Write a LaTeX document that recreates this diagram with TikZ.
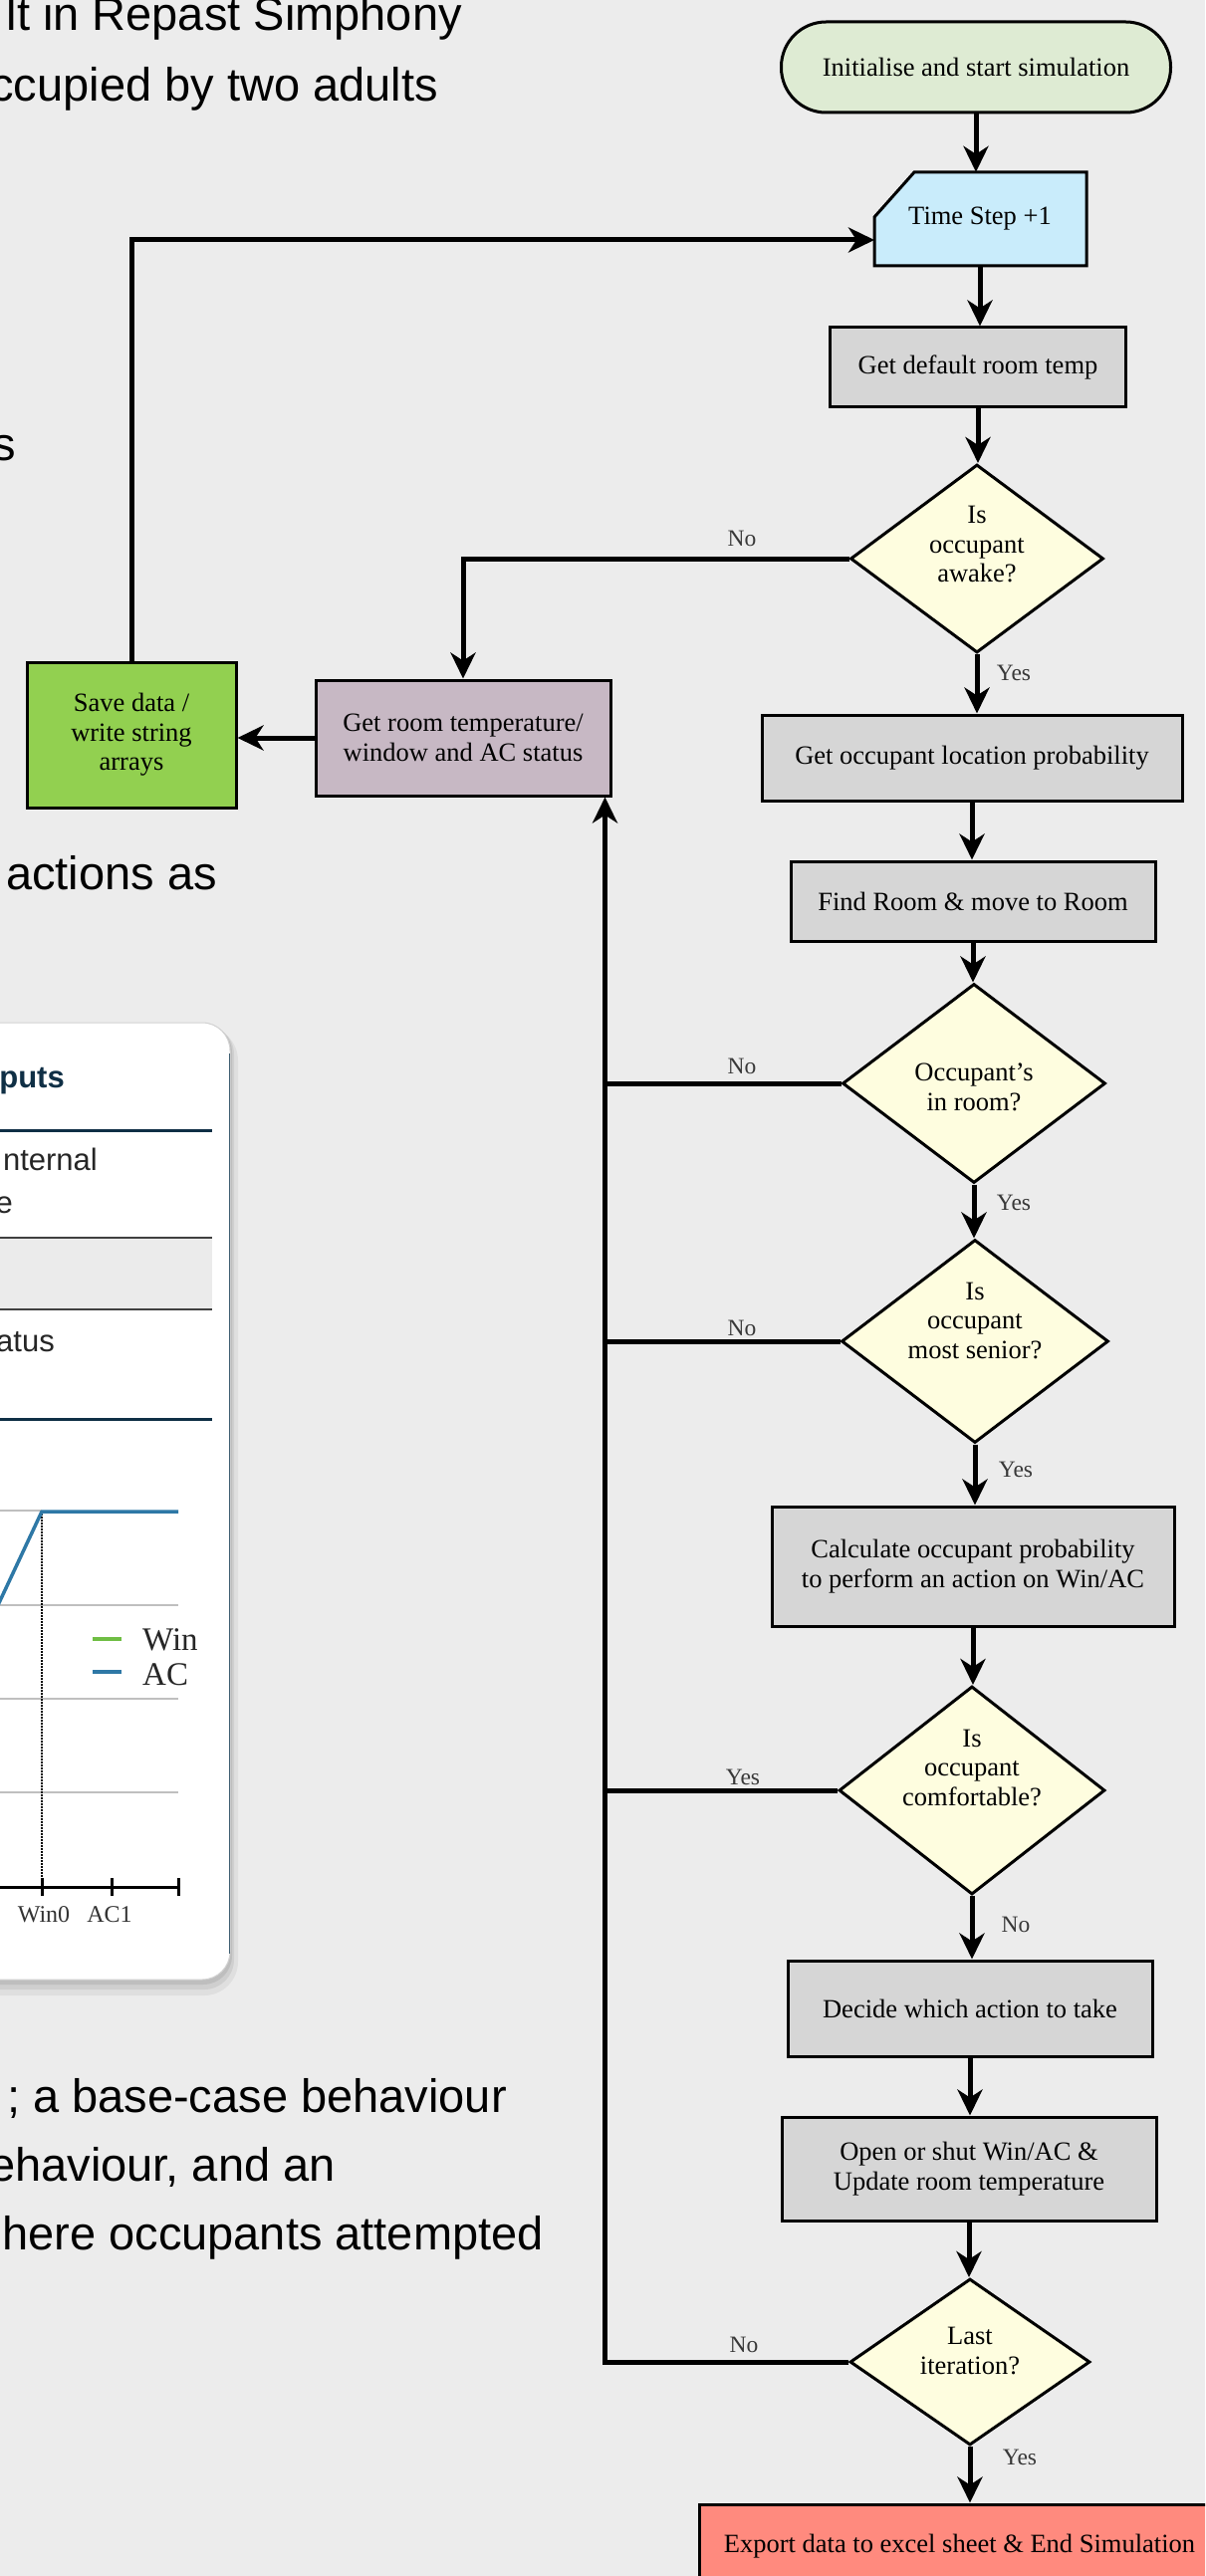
\documentclass[tikz,border=0pt]{standalone}
\usepackage{fontspec}
\setmainfont{Liberation Serif}
\newfontfamily\slidefont{Liberation Sans}
\usetikzlibrary{arrows.meta,shapes.geometric,calc}
\definecolor{bg}{HTML}{ECECEC}
\definecolor{startc}{HTML}{DEEBD3}
\definecolor{tsc}{HTML}{C9ECFB}
\definecolor{boxc}{HTML}{D6D6D6}
\definecolor{decc}{HTML}{FEFDDF}
\definecolor{roomc}{HTML}{C7B8C4}
\definecolor{savec}{HTML}{92D050}
\definecolor{endc}{HTML}{FF8A7E}
\definecolor{navy}{HTML}{0F2F45}
\definecolor{acblue}{HTML}{2E78A6}
\definecolor{wingreen}{HTML}{6FBE44}
\definecolor{edgeblue}{HTML}{3F5E72}
\tikzset{
  fc/.style={font=\fontsize{26.5}{29.5}\selectfont, align=center, inner sep=0pt},
  procbox/.style={fc, draw=black, line width=3pt, fill=boxc, rectangle},
  decbox/.style={fc, draw=black, line width=3pt, fill=decc, diamond, inner sep=0pt},
  conn/.style={line width=5pt, draw=black, line join=miter},
  arr/.style={conn, -{Stealth[length=26pt,width=25pt,inset=8pt]}},
  lbl/.style={font=\fontsize{23.5}{26}\selectfont, text=black!78, inner sep=0pt, anchor=base},
  slide/.style={font=\slidefont\fontsize{47}{52}\selectfont, inner sep=0pt, anchor=base east},
  cardtxt/.style={font=\slidefont\fontsize{31}{34}\selectfont, text=black!85, inner sep=0pt, anchor=base east},
  charttxt/.style={font=\fontsize{33}{36}\selectfont, text=black!85, inner sep=0pt},
  ticktxt/.style={font=\fontsize{24}{26}\selectfont, text=black!80, inner sep=0pt, anchor=base},
}
\begin{document}
\begin{tikzpicture}[x=1pt,y=-1pt]
\useasboundingbox (0,0) rectangle (1210,2587);
\clip (0,0) rectangle (1210,2587);
\fill[bg] (0,0) rectangle (1210,2587);

% ---- slide text behind ----
\node[slide] (s1) at (464,31) {lt in Repast Simphony};
\node[slide] (s2) at (440,102) {ccupied by two adults};
\node[slide] (s3) at (16,462) {s};
\node[slide] (s4) at (218,893) {actions as};
\node[slide] (s5) at (509,2121) {; a base-case behaviour};
\node[slide] (s6) at (337,2190) {ehaviour, and an};
\node[slide] (s7) at (546,2259) {here occupants attempted};

% ---- card ----
\fill[black, opacity=0.05, rounded corners=34pt] (-80,1031) rectangle (239,2004);
\fill[black, opacity=0.07, rounded corners=30pt] (-80,1029) rectangle (235,1998);
\fill[black, opacity=0.08, rounded corners=29pt] (-80,1028) rectangle (233,1993);
\filldraw[fill=white, draw=black!18, line width=1pt, rounded corners=28pt] (-80,1027) rectangle (231,1988);
\draw[edgeblue, line width=1.6pt] (230.5,1058) -- (230.5,1962);

\node[font=\slidefont\bfseries\fontsize{31}{34}\selectfont, text=navy, inner sep=0pt, anchor=base east] (tout) at (65,1092) {puts};
\draw[navy, line width=3pt] (-10,1135) -- (213,1135);
\node[cardtxt] (t1a) at (98,1175) {nternal};
\node[cardtxt] (t1b) at (13,1218) {e};
\fill[black!8] (-10,1244) rectangle (213,1315);
\draw[black!75, line width=2pt] (-10,1243) -- (213,1243);
\draw[black!75, line width=2pt] (-10,1315) -- (213,1315);
\node[cardtxt] (t2) at (55,1357) {atus};
\draw[navy, line width=3pt] (-10,1425) -- (213,1425);

% chart
\foreach \yy in {1612,1706,1800} \draw[black!25, line width=1.5pt] (-10,\yy) -- (179,\yy);
\draw[black!25, line width=1.5pt] (-10,1517) -- (42,1517);
\draw[black, line width=1.5pt, dash pattern=on 1.5pt off 1.5pt] (42,1517) -- (42,1895);
\draw[acblue, line width=3.5pt, line join=round] (-10,1629) -- (42,1518) -- (179,1518);
\draw[black, line width=3pt] (-10,1895) -- (180,1895);
\foreach \xx in {42,112,179} \draw[black, line width=3pt] (\xx,1886) -- (\xx,1904);
\draw[wingreen, line width=3.5pt] (93,1646) -- (122,1646);
\draw[acblue, line width=3.5pt] (93,1679) -- (122,1679);
\node[charttxt, anchor=base west] (lwin) at (143,1657) {Win};
\node[charttxt, anchor=base west] (lac) at (143,1692) {AC};
\node[ticktxt] (xw) at (44,1930) {Win0};
\node[ticktxt] (xa) at (110,1930) {AC1};

% ---- flowchart ----
\node[fc, draw=black, line width=3pt, fill=startc, rounded corners=45pt, minimum width=391pt, minimum height=91pt] (start) at (980,67.5) {Initialise and start simulation};

\filldraw[fill=tsc, draw=black, line width=3pt, line join=miter] (878,267) -- (878,218) -- (918,173) -- (1091,173) -- (1091,267) -- cycle;
\node[fc, minimum width=213pt, minimum height=94pt] (ts) at (984,220) {Time Step +1};

\node[procbox, minimum width=297pt, minimum height=79pt] (gdef) at (982,368.5) {Get default room temp};
\node[decbox, minimum width=254pt, minimum height=189pt] (d1) at (981,561) {};
\node[fc] (d1t) at (981,547) {Is\\occupant\\awake?};
\node[procbox, minimum width=422pt, minimum height=86pt] (gloc) at (976,761) {Get occupant location probability};
\node[procbox, minimum width=366pt, minimum height=80pt] (find) at (977,905) {Find Room \& move to Room};
\node[decbox, minimum width=264pt, minimum height=200pt] (d2) at (978,1088) {};
\node[fc] (d2t) at (978,1092) {Occupant’s\\in room?};
\node[decbox, minimum width=268pt, minimum height=204pt] (d3) at (979,1347) {};
\node[fc] (d3t) at (979,1326) {Is\\occupant\\most senior?};
\node[procbox, minimum width=404pt, minimum height=120pt] (calc) at (977,1573) {Calculate occupant probability\\to perform an action on Win/AC};
\node[decbox, minimum width=267pt, minimum height=209pt] (d4) at (976,1798) {};
\node[fc] (d4t) at (976,1775) {Is\\occupant\\comfortable?};
\node[procbox, minimum width=366pt, minimum height=96pt] (decide) at (974,2017) {Decide which action to take};
\node[procbox, minimum width=376pt, minimum height=104pt] (open) at (973,2178) {Open or shut Win/AC \&\\Update room temperature};
\node[decbox, minimum width=241pt, minimum height=167pt] (d5) at (974,2372) {};
\node[fc] (d5t) at (974,2361) {Last\\iteration?};
\node[fc, draw=black, line width=3pt, fill=endc, minimum width=523pt, minimum height=85pt] (export) at (963.5,2557.5) {Export data to excel sheet \& End Simulation};

\node[fc, draw=black, line width=3pt, fill=roomc, minimum width=296pt, minimum height=116pt] (room) at (465,741) {Get room temperature/\\window and AC status};
\node[fc, draw=black, line width=3pt, fill=savec, minimum width=210pt, minimum height=146pt] (save) at (132,738) {Save data /\\write string\\arrays};

% main column arrows
\draw[arr] (start.south) -- (start.south |- ts.north);
\draw[arr] (ts.south) -- (ts.south |- gdef.north);
\draw[arr] (gdef.south) -- (gdef.south |- d1.north);
\draw[arr] (d1.south) -- (d1.south |- gloc.north);
\draw[arr] (gloc.south) -- (gloc.south |- find.north);
\draw[arr] (find.south) -- (find.south |- d2.north);
\draw[arr] (d2.south) -- (d2.south |- d3.north);
\draw[arr] (d3.south) -- (d3.south |- calc.north);
\draw[arr] (calc.south) -- (calc.south |- d4.north);
\draw[arr] (d4.south) -- (d4.south |- decide.north);
\draw[arr] (decide.south) -- (decide.south |- open.north);
\draw[arr] (open.south) -- (open.south |- d5.north);
\draw[arr] (d5.south) -- (d5.south |- export.north);

% side connectors
\coordinate (busTop) at ($(room.south east)+(-7,0)$);
\coordinate (tsIn) at (878,241);
\draw[arr] (d1.west) -| (room.north);
\draw[arr] (d5.west) -| (busTop);
\draw[conn] (d2.west) -- (d2.west -| busTop);
\draw[conn] (d3.west) -- (d3.west -| busTop);
\draw[conn] (d4.west) -- (d4.west -| busTop);
\draw[arr] (room.west) -- (room.west -| save.east);
\draw[arr] (save.north) |- (tsIn);

% labels
\node[lbl] (l1) at (1018,683) {Yes};
\node[lbl] (l2) at (1018,1215) {Yes};
\node[lbl] (l3) at (1020,1483) {Yes};
\node[lbl] (l4) at (1020,1940) {No};
\node[lbl] (l5) at (1024,2475) {Yes};
\node[lbl] (n1) at (745,548) {No};
\node[lbl] (n2) at (745,1078) {No};
\node[lbl] (n3) at (745,1341) {No};
\node[lbl] (n4) at (746,1792) {Yes};
\node[lbl] (n5) at (747,2362) {No};
\end{tikzpicture}
\end{document}
